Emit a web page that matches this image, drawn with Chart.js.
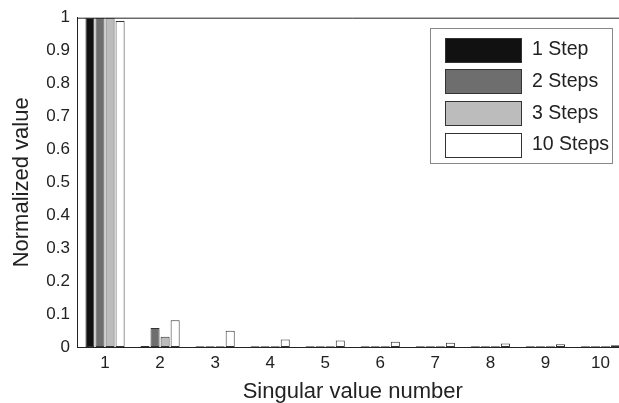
<!DOCTYPE html>
<html>
<head>
<meta charset="utf-8">
<script src="https://cdn.jsdelivr.net/npm/chart.js@4/dist/chart.umd.min.js"></script>
<style>
html,body{margin:0;padding:0;overflow:hidden;background:#fff;}
#wrap{width:628px;height:403px;}
</style>
</head>
<body>
<div id="wrap"><canvas id="c" width="628" height="403"></canvas></div>
<script>
const categories = ['1','2','3','4','5','6','7','8','9','10'];
const seriesNames = ['1 Step','2 Steps','3 Steps','10 Steps'];
const step1  = [1, 0.003, 0.002, 0.002, 0.002, 0.002, 0.002, 0.002, 0.002, 0.002];
const step2  = [1, 0.058, 0.002, 0.002, 0.002, 0.002, 0.002, 0.002, 0.002, 0.002];
const step3  = [1, 0.031, 0.002, 0.002, 0.002, 0.002, 0.002, 0.002, 0.002, 0.002];
const step10 = [0.99, 0.081, 0.049, 0.023, 0.020, 0.016, 0.013, 0.011, 0.008, 0.005];
const yTickLabels = ['0','0.1','0.2','0.3','0.4','0.5','0.6','0.7','0.8','0.9','1'];
const colors = ['#111111','#6e6e6e','#bcbcbc','#ffffff'];

const FONT = 'Liberation Sans, Arial, Helvetica, sans-serif';

const frameLegend = {
  id: 'frameLegend',
  afterDraw(chart) {
    const ctx = chart.ctx;
    const a = chart.chartArea;
    ctx.save();
    // top axis line
    ctx.strokeStyle = '#222';
    ctx.lineWidth = 1;
    ctx.beginPath();
    ctx.moveTo(a.left, a.top + 0.5);
    ctx.lineTo(chart.width, a.top + 0.5);
    ctx.stroke();
    // legend box
    ctx.fillStyle = '#fff';
    ctx.fillRect(430.5, 28.5, 182, 135);
    ctx.strokeStyle = '#888';
    ctx.strokeRect(430.5, 28.5, 182, 135);
    ctx.font = '19.5px ' + FONT;
    ctx.textBaseline = 'middle';
    ctx.textAlign = 'left';
    chart.data.datasets.forEach((ds, i) => {
      const y = 37.5 + i * 31.7;
      ctx.fillStyle = ds.backgroundColor;
      ctx.fillRect(445.5, Math.round(y) + 0.5, 76, 24);
      ctx.strokeStyle = '#333';
      ctx.strokeRect(445.5, Math.round(y) + 0.5, 76, 24);
      ctx.fillStyle = '#222';
      ctx.fillText(ds.label, 532, y + 12.5);
    });
    ctx.restore();
  }
};

new Chart(document.getElementById('c'), {
  type: 'bar',
  data: {
    labels: categories,
    datasets: [step1, step2, step3, step10].map((d, i) => ({
      label: seriesNames[i],
      data: d,
      backgroundColor: colors[i],
      borderColor: '#333',
      borderWidth: 1,
      borderSkipped: false,
      categoryPercentage: 0.73,
      barPercentage: 0.9
    }))
  },
  options: {
    responsive: false,
    animation: false,
    layout: { padding: { top: 15, left: 0, right: 0, bottom: 0 } },
    plugins: { legend: { display: false }, tooltip: { enabled: false } },
    scales: {
      x: {
        grid: { display: false, drawTicks: false },
        border: { display: true, color: '#222', width: 1 },
        ticks: { color: '#222', font: { family: FONT, size: 17 }, padding: 6, maxRotation: 0 },
        title: { display: true, text: 'Singular value number', color: '#222',
                 font: { family: FONT, size: 22, lineHeight: 1 }, padding: { top: 1, bottom: 0 } },
        afterFit(s) { s.height = 56; }
      },
      y: {
        min: 0, max: 1,
        grid: { display: false, drawTicks: false },
        border: { display: true, color: '#222', width: 1 },
        ticks: { stepSize: 0.1, color: '#222', font: { family: FONT, size: 17 }, padding: 7.5,
                 callback: (v, i) => yTickLabels[i] },
        title: { display: true, text: 'Normalized value', color: '#222',
                 font: { family: FONT, size: 22, lineHeight: 1 }, padding: { top: 11, bottom: 0 } },
        afterFit(s) { s.width = 77.5; }
      }
    }
  },
  plugins: [frameLegend]
});
</script>
</body>
</html>
